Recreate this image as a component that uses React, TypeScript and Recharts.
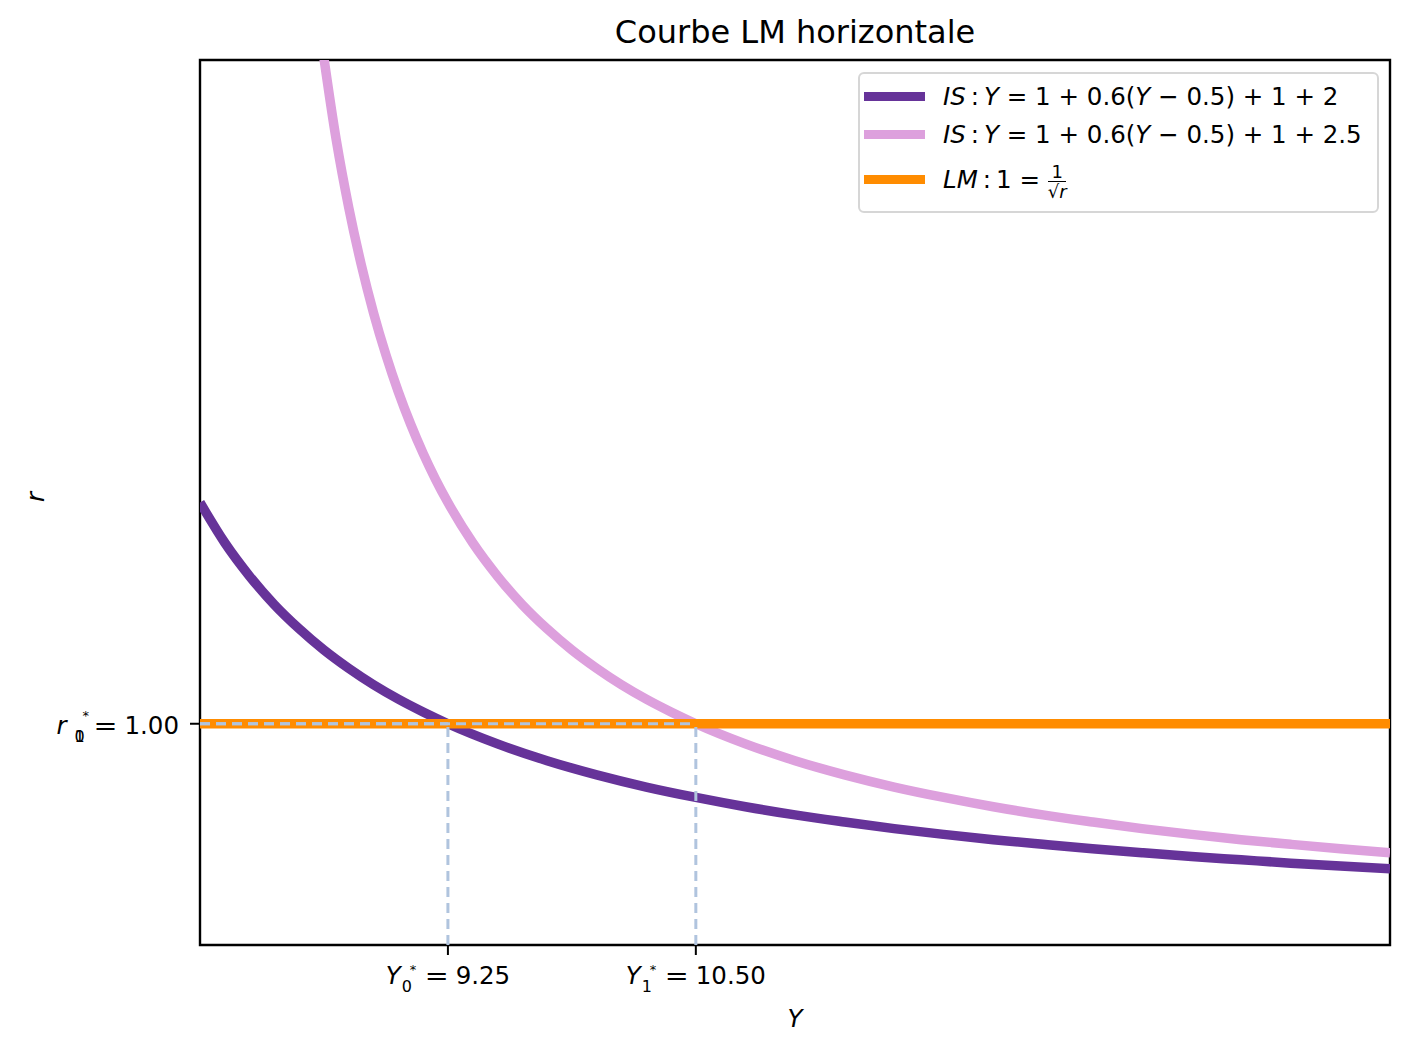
import React from 'react';
import { LineChart, Line, XAxis, YAxis, ReferenceLine, ReferenceArea, Legend } from 'recharts';

// IS curve, G = 2
const isLowY = [8, 8.125, 8.25, 8.375, 8.5, 8.625, 8.75, 8.875, 9, 9.125, 9.25, 9.5, 9.75, 10, 10.25, 10.5, 10.75, 11, 11.25, 11.5, 11.75, 12, 12.25, 12.5, 12.75, 13, 13.25, 13.5, 13.75, 14];
const isLowR = [2.0, 1.818, 1.667, 1.538, 1.429, 1.333, 1.25, 1.176, 1.111, 1.053, 1.0, 0.909, 0.833, 0.769, 0.714, 0.667, 0.625, 0.588, 0.556, 0.526, 0.5, 0.476, 0.455, 0.435, 0.417, 0.4, 0.385, 0.37, 0.357, 0.345];

// IS curve, G = 2.5
const isHighY = [8.6, 8.6875, 8.75, 8.8125, 8.875, 8.9375, 9, 9.0625, 9.125, 9.1875, 9.25, 9.375, 9.5, 9.625, 9.75, 9.875, 10, 10.125, 10.25, 10.375, 10.5, 10.75, 11, 11.25, 11.5, 11.75, 12, 12.25, 12.5, 12.75, 13, 13.25, 13.5, 13.75, 14];
const isHighR = [4.167, 3.636, 3.333, 3.077, 2.857, 2.667, 2.5, 2.353, 2.222, 2.105, 2.0, 1.818, 1.667, 1.538, 1.429, 1.333, 1.25, 1.176, 1.111, 1.053, 1.0, 0.909, 0.833, 0.769, 0.714, 0.667, 0.625, 0.588, 0.556, 0.526, 0.5, 0.476, 0.455, 0.435, 0.417];

// LM, horizontal
const lmY = [8, 14];
const lmR = [1, 1];

// equilibria
const eqY = [9.25, 10.5];
const eqR = [1, 1];

const xTicks = [9.25, 10.5];
const yTicks = [1];
const xDomain = [8, 14];
const yDomain = [0, 4];

const zip = (ys: number[], rs: number[]) => ys.map((Y, i) => ({ Y, r: rs[i] }));
const isLow = zip(isLowY, isLowR);
const isHigh = zip(isHighY, isHighR);
const lm = zip(lmY, lmR);

const FONT = '"DejaVu Sans", sans-serif';
const FS = 24.5;
const SUB = 16;
const STAR = 13;
const guide = '#b0c4de';

// rough advance width of a number string in DejaVu Sans
const numWidth = (s: string) => s.split('').reduce((w, c) => w + (c === '.' ? 0.318 : 0.636) * FS, 0);

// sym_sub^* = value, N is where the number starts
function Eq({ N, base, sym, symDx, subDx, starDy, subs, value }: any) {
  return (
    <g fontFamily={FONT} fill="#000">
      <text x={N - symDx} y={base} fontSize={FS} fontStyle="italic">{sym}</text>
      {subs.map((s: string) => (
        <text key={s} x={N - subDx} y={base + 8} fontSize={SUB}>{s}</text>
      ))}
      <text x={N - subDx + 8} y={base + starDy} fontSize={STAR}>*</text>
      <text x={N - 31} y={base} fontSize={FS} textLength={24} lengthAdjust="spacingAndGlyphs">=</text>
      <text x={N} y={base} fontSize={FS}>{value}</text>
    </g>
  );
}

function XTick(props: any) {
  const { x, y, payload, index } = props;
  const value = payload.value.toFixed(2);
  const N = x + 35 - numWidth(value) / 2;
  return (
    <g>
      <line x1={x} x2={x} y1={y} y2={y + 10} stroke="#000" strokeWidth={2} />
      <Eq N={N} base={y + 39} sym="Y" symDx={70} subDx={54} starDy={-10} subs={[String(index)]} value={value} />
    </g>
  );
}

function YTick(props: any) {
  const { x, y, payload } = props;
  const value = payload.value.toFixed(2);
  const N = x - 21 - numWidth(value);
  return (
    <g>
      <line x1={x} x2={x - 10} y1={y} y2={y} stroke="#000" strokeWidth={2} />
      <Eq N={N} base={y + 10} sym="r" symDx={68} subDx={50} starDy={-14} subs={['0', '1']} value={value} />
    </g>
  );
}

const legendRows = [
  { color: '#663399', top: 23, label: (<span><i>IS</i><span style={{ margin: '0 5px' }}>:</span><i>Y</i> = 1 + 0.6(<i>Y</i> − 0.5) + 1 + 2</span>) },
  { color: '#dda0dd', top: 61, label: (<span><i>IS</i><span style={{ margin: '0 5px' }}>:</span><i>Y</i> = 1 + 0.6(<i>Y</i> − 0.5) + 1 + 2.5</span>) },
  {
    color: '#ff8c00',
    top: 106,
    label: (
      <span style={{ display: 'inline-flex', alignItems: 'center' }}>
        <i>LM</i><span style={{ margin: '0 5px' }}>:</span>1 =&nbsp;
        <span style={{ display: 'inline-flex', flexDirection: 'column', alignItems: 'center', fontSize: 18, lineHeight: '19px', marginTop: 4 }}>
          <span style={{ borderBottom: '1.5px solid #000', padding: '0 3px' }}>1</span>
          <span>√<i>r</i></span>
        </span>
      </span>
    ),
  },
];

function LegendBox() {
  return (
    <div style={{ position: 'relative', width: 517, height: 137, border: '2px solid #d6d6d6', borderRadius: 6, background: 'rgba(255,255,255,0.8)', fontFamily: FONT, fontSize: FS, color: '#000' }}>
      {legendRows.map((row, i) => (
        <div key={i} style={{ position: 'absolute', left: 4, top: row.top - 1, height: 0, display: 'flex', alignItems: 'center', whiteSpace: 'nowrap' }}>
          <div style={{ width: 61, height: 9, background: row.color, marginRight: 18 }} />
          {row.label}
        </div>
      ))}
    </div>
  );
}

export default function App() {
  return (
    <div style={{ position: 'relative', width: 1393, height: 1037, background: '#fff', fontFamily: FONT }}>
      <div style={{ position: 'absolute', left: 192, width: 1190, top: 5, textAlign: 'center', fontSize: 32, color: '#000' }}>
        Courbe LM horizontale
      </div>
      <div style={{ position: 'absolute', left: 27, top: 489, transform: 'translate(-50%, -50%) rotate(-90deg)', fontSize: FS, fontStyle: 'italic' }}>
        r
      </div>
      <div style={{ position: 'absolute', left: 787, top: 1010, transform: 'translate(-50%, -50%)', fontSize: FS, fontStyle: 'italic' }}>
        Y
      </div>
      <LineChart width={1393} height={1037} margin={{ top: 52, right: 11, bottom: 60, left: 132 }}>
        <XAxis dataKey="Y" type="number" domain={xDomain} ticks={xTicks} allowDataOverflow height={40} axisLine={false} tickLine={false} tickSize={0} tickMargin={0} tick={<XTick />} interval={0} />
        <YAxis dataKey="r" type="number" domain={yDomain} ticks={yTicks} allowDataOverflow width={60} axisLine={false} tickLine={false} tickSize={0} tickMargin={0} tick={<YTick />} interval={0} />
        <Line data={isLow} dataKey="r" type="monotone" stroke="#663399" strokeWidth={9.5} dot={false} activeDot={false} isAnimationActive={false} />
        <Line data={isHigh} dataKey="r" type="monotone" stroke="#dda0dd" strokeWidth={9.5} dot={false} activeDot={false} isAnimationActive={false} />
        <Line data={lm} dataKey="r" type="linear" stroke="#ff8c00" strokeWidth={9.5} dot={false} activeDot={false} isAnimationActive={false} />
        {eqY.map((yv, i) => (
          <ReferenceLine key={'h' + i} segment={[{ x: xDomain[0], y: eqR[i] }, { x: yv, y: eqR[i] }]} stroke={guide} strokeWidth={3} strokeDasharray="10 6" />
        ))}
        {eqY.map((yv, i) => (
          <ReferenceLine key={'v' + i} segment={[{ x: yv, y: yDomain[0] }, { x: yv, y: eqR[i] }]} stroke={guide} strokeWidth={3} strokeDasharray="10 6" />
        ))}
        <ReferenceArea x1={xDomain[0]} x2={xDomain[1]} y1={yDomain[0]} y2={yDomain[1]} fill="none" fillOpacity={0} stroke="#000" strokeWidth={2.4} />
        <Legend layout="horizontal" verticalAlign="middle" align="center" wrapperStyle={{ top: 64, left: 850, width: 'auto', height: 'auto' }} content={<LegendBox />} />
      </LineChart>
    </div>
  );
}
